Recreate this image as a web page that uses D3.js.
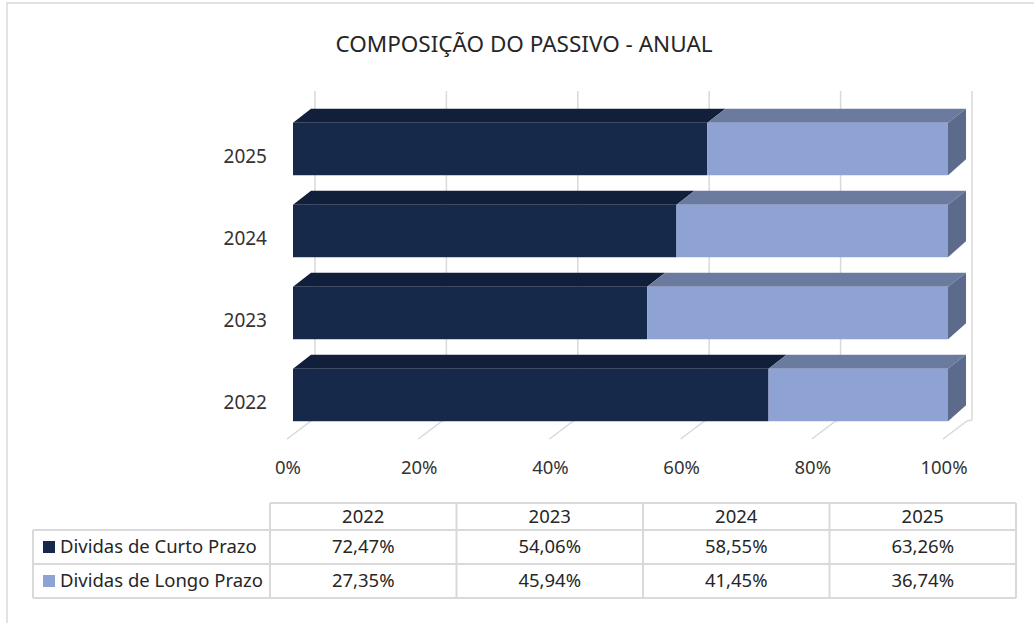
<!DOCTYPE html>
<html>
<head>
<meta charset="utf-8">
<script src="https://cdn.jsdelivr.net/npm/d3@7"></script>
<style>
  body { margin: 0; background: #fff; }
  text { font-family: "Noto Sans", "Open Sans", sans-serif; }
</style>
</head>
<body>
<div id="chart"></div>
<script>
// Data
const years = ["2022", "2023", "2024", "2025"];
const seriesNames = ["Dividas de Curto Prazo", "Dividas de Longo Prazo"];
const curtoPrazo = [72.47, 54.06, 58.55, 63.26];
const longoPrazo = [27.35, 45.94, 41.45, 36.74];
const axisTicks = [0, 0.2, 0.4, 0.6, 0.8, 1];
const title = "COMPOSIÇÃO DO PASSIVO - ANUAL";

const W = 1034, H = 623;
const colors = {
    front: ["#17294a", "#8fa2d4"],
    top: ["#111f3a", "#6b7ba0"],
    side: ["#111f3a", "#5c6a8c"]
};
const grid = "#d9d9d9";
const dx = 18, dy = -14; // depth offset of the 3D bars

const pt = d3.formatLocale({ decimal: ",", thousands: ".", grouping: [3], currency: ["", ""] });
const fmtVal = v => pt.format(".2f")(v) + "%";

const svg = d3.select("#chart").append("svg")
    .attr("width", W)
    .attr("height", H);

// Chart frame
svg.append("rect")
    .attr("x", 7).attr("y", 3)
    .attr("width", W + 20).attr("height", H + 20)
    .attr("fill", "none")
    .attr("stroke", grid)
    .attr("stroke-width", 1.5);

// Title
svg.append("text")
    .attr("x", 524).attr("y", 52)
    .attr("text-anchor", "middle")
    .attr("font-size", 22.5)
    .attr("fill", "#262626")
    .text(title);

// Scales: front face, back wall and floor front edge
const x = d3.scaleLinear().domain([0, 1]).range([293, 948]);
const xBack = d3.scaleLinear().domain([0, 1]).range([315, 972]);
const xFloor = d3.scaleLinear().domain([0, 1]).range([287, 943]);

const y = d3.scaleBand()
    .domain(years.slice().reverse())
    .range([108, 436])
    .paddingInner(0.36)
    .paddingOuter(0.18);

// Back wall gridlines and floor lines
const gridG = svg.append("g")
    .attr("stroke", grid)
    .attr("stroke-width", 1.5)
    .attr("fill", "none");
gridG.selectAll(".vgrid")
    .data(axisTicks)
    .enter()
    .append("path")
    .attr("class", "vgrid")
    .attr("d", t => `M${xBack(t)},91 L${xBack(t)},420 L${xFloor(t) + 24},421 L${xFloor(t)},439`);

// Axis tick labels
svg.append("g")
    .selectAll("text")
    .data(axisTicks)
    .enter()
    .append("text")
    .attr("x", t => xFloor(t) + 1)
    .attr("y", 474)
    .attr("text-anchor", "middle")
    .attr("font-size", 18.5)
    .attr("fill", "#333")
    .text(t => pt.format(".0%")(t));

// Category labels
svg.append("g")
    .selectAll("text")
    .data(years)
    .enter()
    .append("text")
    .attr("x", 267)
    .attr("y", d => y(d) + y.bandwidth() / 2 + 7)
    .attr("dy", "0.35em")
    .attr("text-anchor", "end")
    .attr("font-size", 19)
    .attr("fill", "#333")
    .text(d => d);

// Stack the two series as shares of 100%
const rows = years.map((yr, i) => {
    const total = curtoPrazo[i] + longoPrazo[i];
    const a = curtoPrazo[i] / total;
    return {
        year: yr,
        segs: [
            { s: 0, x0: 0, x1: a },
            { s: 1, x0: a, x1: 1 }
        ]
    };
});

const bars = svg.append("g")
    .selectAll("g")
    .data(rows)
    .enter()
    .append("g");

bars.each(function (d) {
    const g = d3.select(this);
    const top = y(d.year), h = y.bandwidth();
    d.segs.forEach(seg => {
        const a = x(seg.x0), b = x(seg.x1);
        g.append("polygon")
            .attr("points", [[a, top], [b, top], [b + dx, top + dy], [a + dx, top + dy]].join(" "))
            .attr("fill", colors.top[seg.s]);
        g.append("rect")
            .attr("x", a).attr("y", top)
            .attr("width", b - a).attr("height", h)
            .attr("fill", colors.front[seg.s]);
    });
    const last = d.segs[d.segs.length - 1];
    const r = x(last.x1);
    g.append("polygon")
        .attr("points", [[r, top], [r + dx, top + dy], [r + dx, top + h + dy - 2], [r, top + h]].join(" "))
        .attr("fill", colors.side[last.s]);
});

// Data table
const col = d3.scaleBand().domain(years).range([270, 1016]);
const rowY = [503, 530, 564, 598];
const legendLeft = 33;
const tbl = svg.append("g")
    .attr("stroke", grid)
    .attr("stroke-width", 2)
    .attr("fill", "none");

// horizontal lines
tbl.append("line").attr("x1", 270).attr("x2", 1016).attr("y1", rowY[0]).attr("y2", rowY[0]);
rowY.slice(1).forEach(yy => {
    tbl.append("line").attr("x1", legendLeft).attr("x2", 1016).attr("y1", yy).attr("y2", yy);
});
// vertical lines
tbl.append("line").attr("x1", legendLeft).attr("x2", legendLeft).attr("y1", rowY[1]).attr("y2", rowY[3]);
years.forEach(yr => {
    tbl.append("line").attr("x1", col(yr)).attr("x2", col(yr)).attr("y1", rowY[0]).attr("y2", rowY[3]);
});
tbl.append("line").attr("x1", 1016).attr("x2", 1016).attr("y1", rowY[0]).attr("y2", rowY[3]);

const txt = svg.append("g")
    .attr("font-size", 18.5)
    .attr("fill", "#262626");

// header
txt.selectAll(".hdr")
    .data(years)
    .enter()
    .append("text")
    .attr("class", "hdr")
    .attr("x", d => col(d) + col.bandwidth() / 2)
    .attr("y", (rowY[0] + rowY[1]) / 2)
    .attr("dy", "0.35em")
    .attr("text-anchor", "middle")
    .text(d => d);

const tableRows = [curtoPrazo, longoPrazo];
tableRows.forEach((vals, r) => {
    const cy = (rowY[r + 1] + rowY[r + 2]) / 2;
    svg.append("rect")
        .attr("x", 43).attr("y", cy - 6)
        .attr("width", 12).attr("height", 12)
        .attr("fill", colors.front[r]);
    txt.append("text")
        .attr("x", 60).attr("y", cy)
        .attr("dy", "0.35em")
        .text(seriesNames[r]);
    txt.selectAll(".v" + r)
        .data(vals)
        .enter()
        .append("text")
        .attr("class", "v" + r)
        .attr("x", (v, i) => col(years[i]) + col.bandwidth() / 2)
        .attr("y", cy)
        .attr("dy", "0.35em")
        .attr("text-anchor", "middle")
        .text(v => fmtVal(v));
});
</script>
</body>
</html>
